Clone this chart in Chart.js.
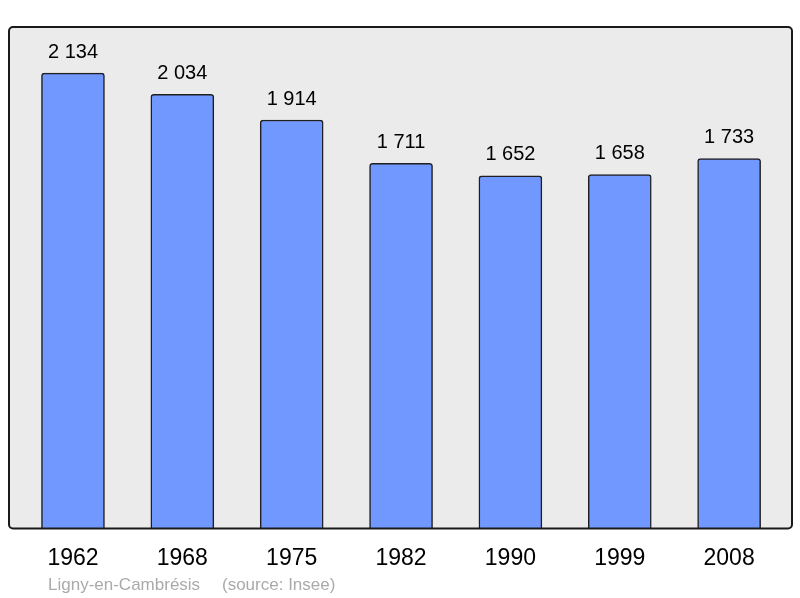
<!DOCTYPE html>
<html><head><meta charset="utf-8">
<script src="https://cdn.jsdelivr.net/npm/chart.js@4/dist/chart.umd.min.js"></script>
<style>html,body{margin:0;padding:0;background:#fff}#w{width:800px;height:598px}</style>
</head><body><div id="w"><canvas id="c" width="800" height="598"></canvas></div>
<script>
const years = ['1962','1968','1975','1982','1990','1999','2008'];
const population = [2134, 2034, 1914, 1711, 1652, 1658, 1733];
const commune = 'Ligny-en-Cambrésis';
const source = '(source: Insee)';

const fmt = v => String(v).replace(/\B(?=(\d{3})+(?!\d))/g, ' ');

const framePlugin = {
  id: 'frame',
  beforeDatasetsDraw(chart) {
    const {ctx, chartArea: a} = chart;
    ctx.save();
    ctx.beginPath();
    ctx.roundRect(a.left, a.top, a.right - a.left, a.bottom - a.top, 4);
    ctx.fillStyle = '#ebebeb';
    ctx.fill();
    ctx.restore();
  },
  afterDatasetsDraw(chart) {
    const {ctx, chartArea: a} = chart;
    ctx.save();
    ctx.beginPath();
    ctx.roundRect(a.left, a.top, a.right - a.left, a.bottom - a.top, 4);
    ctx.lineWidth = 2;
    ctx.strokeStyle = '#1a1a1a';
    ctx.stroke();
    ctx.fillStyle = '#000';
    ctx.font = '20px "Liberation Sans", Arial, sans-serif';
    ctx.textAlign = 'center';
    ctx.textBaseline = 'middle';
    chart.getDatasetMeta(0).data.forEach((bar, i) => {
      ctx.fillText(fmt(population[i]), bar.x, bar.y - 21);
    });
    ctx.fillStyle = '#aaaaaa';
    ctx.font = '17px "Liberation Sans", Arial, sans-serif';
    ctx.textAlign = 'left';
    ctx.fillText(commune, 48, 585);
    ctx.fillText(source, 222, 585);
    ctx.restore();
  }
};

new Chart(document.getElementById('c'), {
  type: 'bar',
  data: {
    datasets: [{
      data: population.map((v, i) => ({x: i, y: v})),
      backgroundColor: '#7098ff',
      borderColor: '#1f1f1f',
      borderWidth: 1.5,
      borderSkipped: 'bottom',
      borderRadius: {topLeft: 3, topRight: 3, bottomLeft: 0, bottomRight: 0},
      barThickness: 63
    }]
  },
  options: {
    responsive: false,
    animation: false,
    layout: {padding: {left: 9, right: 8, top: 27, bottom: 10}},
    plugins: {legend: {display: false}, tooltip: {enabled: false}},
    scales: {
      x: {
        type: 'linear',
        offset: false,
        min: -0.585, max: 6.575,
        afterBuildTicks: axis => { axis.ticks = years.map((_, i) => ({value: i})); },
        ticks: {
          callback: v => years[v] ?? '',
          color: '#000',
          font: {size: 23, family: '"Liberation Sans", Arial, sans-serif'},
          padding: 16,
          maxRotation: 0,
          autoSkip: false
        },
        grid: {display: false, drawTicks: false},
        border: {display: false}
      },
      y: {
        display: false,
        min: 0, max: 2350
      }
    }
  },
  plugins: [framePlugin]
});
</script></body></html>
